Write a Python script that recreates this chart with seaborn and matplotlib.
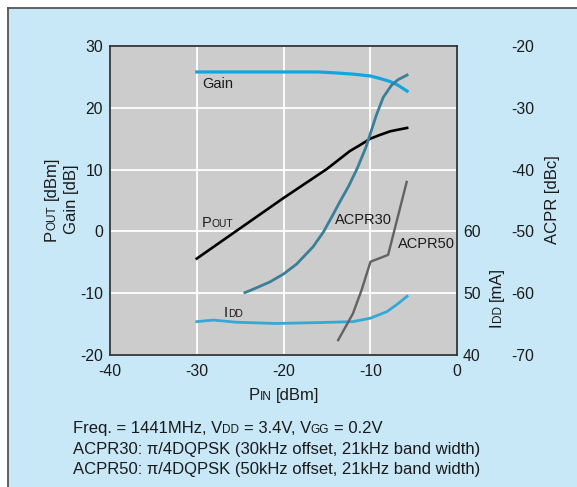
import matplotlib
matplotlib.use("Agg")
import matplotlib.pyplot as plt
import seaborn as sns
from matplotlib.patches import Rectangle
from matplotlib.lines import Line2D
from matplotlib.transforms import IdentityTransform

# ---------------- data ----------------
pin_gain = [-30, -20, -16, -14, -12, -10, -8.9, -7.7, -6.8, -5.75]
gain_db = [25.8, 25.8, 25.8, 25.65, 25.45, 25.15, 24.75, 24.25, 23.65, 22.7]

pin_pout = [-30, -25, -20, -15, -12.35, -11.2, -10, -8.9, -7.7, -5.75]
pout_dbm = [-4.4, 0.5, 5.4, 10.1, 13.0, 13.95, 15.0, 15.6, 16.2, 16.75]

pin_idd = [-30, -28.1, -25.4, -20.8, -15.8, -12, -10, -8.1, -6.9, -5.75]
idd_ma = [45.4, 45.65, 45.3, 45.1, 45.25, 45.4, 45.95, 47.0, 48.2, 49.5]

pin_acpr30 = [-24.45, -23.9, -21.6, -20, -18.5, -16.6, -15.4, -14.3, -13.5, -12.5,
              -11.5, -10.5, -9.3, -8.5, -7.55, -6.8, -5.75]
acpr30_dbc = [-59.9, -59.6, -58.2, -56.9, -55.3, -52.5, -50.1, -47.3, -45.2, -42.7,
              -39.8, -36.4, -31.2, -28.3, -26.35, -25.45, -24.7]

pin_acpr50 = [-13.7, -12.0, -11.0, -9.97, -7.94, -5.8]
acpr50_dbc = [-67.6, -63.3, -59.5, -54.9, -53.8, -42.0]

x_ticks = [-40, -30, -20, -10, 0]
left_ticks = [-20, -10, 0, 10, 20, 30]
idd_ticks = [40, 50, 60]
acpr_ticks = [-70, -60, -50, -40, -30, -20]

# ---------------- style ----------------
FONT = "Liberation Sans"
plt.rcParams["font.family"] = [FONT, "DejaVu Sans"]
plt.rcParams["axes.unicode_minus"] = False
TXT = "#1a1a1a"
W, H = 577, 487
BG_BLUE = "#c8e8f8"
PLOT_GRAY = "#cccccc"
C_GAIN = "#12a6e0"
C_IDD = "#33a9d6"
C_ACPR30 = "#3a7e98"
C_ACPR50 = "#626262"
C_POUT = "#000000"
TICK_FS = 11.3

fig = plt.figure(figsize=(W / 100, H / 100), dpi=100, facecolor="white")
fig.add_artist(Rectangle((8 / W, 0), 1.0, 1 - 8 / H, transform=fig.transFigure,
                         facecolor=BG_BLUE, edgecolor="none", zorder=0))
fig.add_artist(Line2D([8 / W, 8 / W], [0, 1 - 8 / H], transform=fig.transFigure,
                      color="#555555", lw=1.3, zorder=0.5))
fig.add_artist(Line2D([8 / W, 1], [1 - 8 / H, 1 - 8 / H], transform=fig.transFigure,
                      color="#555555", lw=1.3, zorder=0.5))

L, R, T, B = 110, 457, 46, 355
ax = fig.add_axes([L / W, 1 - B / H, (R - L) / W, (B - T) / H])
ax.set_facecolor(PLOT_GRAY)
ax.set_xlim(-40, 0)
ax.set_ylim(-20, 30)
ax.set_xticks(x_ticks)
ax.set_yticks(left_ticks)
ax.grid(True, color="white", lw=1.3)
ax.set_axisbelow(True)
for sp in ax.spines.values():
    sp.set_color("#333333")
    sp.set_linewidth(1.3)
ax.tick_params(length=0, labelsize=TICK_FS, colors=TXT)
ax.tick_params(axis="x", pad=6.5)
ax.tick_params(axis="y", pad=5)

sns.lineplot(x=pin_gain, y=gain_db, ax=ax, color=C_GAIN, lw=2.3)
sns.lineplot(x=pin_pout, y=pout_dbm, ax=ax, color=C_POUT, lw=1.9)
ax.set_xlabel("")
ax.set_ylabel("")

ax_idd = ax.twinx()
ax_idd.set_ylim(40, 90)
ax_idd.set_yticks(idd_ticks)
for sp in ax_idd.spines.values():
    sp.set_visible(False)
ax_idd.tick_params(length=0, labelsize=TICK_FS, colors=TXT, pad=4.3)
sns.lineplot(x=pin_idd, y=idd_ma, ax=ax_idd, color=C_IDD, lw=2.0)
ax_idd.set_ylabel("")

ax_acpr = ax.twinx()
ax_acpr.set_ylim(-70, -20)
ax_acpr.set_yticks(acpr_ticks)
for sp in ax_acpr.spines.values():
    sp.set_visible(False)
ax_acpr.spines["right"].set_position(("outward", 35))
ax_acpr.tick_params(length=0, labelsize=TICK_FS, colors=TXT, pad=4.3)
sns.lineplot(x=pin_acpr30, y=acpr30_dbc, ax=ax_acpr, color=C_ACPR30, lw=2.0)
sns.lineplot(x=pin_acpr50, y=acpr50_dbc, ax=ax_acpr, color=C_ACPR50, lw=1.7)
ax_acpr.set_ylabel("")
ax.set_xlim(-40, 0)

# ---------------- rich text helper (small-caps subscripts) ----------------
fig.canvas.draw()
rend = fig.canvas.get_renderer()


def _w(s, fs):
    t = fig.text(0, 0, s, fontsize=fs, transform=IdentityTransform())
    w = t.get_window_extent(rend).width
    t.remove()
    return w


def advance(s, fs):
    return _w("x" + s + "x", fs) - _w("xx", fs)


def rich(parts, x, y, rot=0, align="left", color=TXT):
    """x, y: reference pixel coords (y from top) of baseline start."""
    adv = [advance(s, fs) for s, fs in parts]
    total = sum(adv)
    pos = -total / 2 if align == "center" else 0.0
    X, Y = x, H - y
    for (s, fs), a in zip(parts, adv):
        stripped = s.lstrip(" ")
        lead = advance(s[: len(s) - len(stripped)], fs) if stripped != s else 0.0
        p = pos + lead
        if rot == 0:
            fig.text(X + p, Y, stripped, fontsize=fs, ha="left", va="baseline",
                     color=color, transform=IdentityTransform())
        else:
            fig.text(X, Y + p, stripped, fontsize=fs, rotation=90, rotation_mode="anchor",
                     ha="left", va="baseline", color=color, transform=IdentityTransform())
        pos += a


S = 10.5
s = 7.4
# in-plot labels
rich([("Gain", S)], 202, 88)
rich([("P", S), ("OUT", s)], 202, 227.3)
rich([("ACPR30", S)], 335, 224.5)
rich([("ACPR50", S)], 397.5, 248.3)
rich([("I", S), ("DD", s)], 224, 316.7)

# axis labels
AL = 12
al = 8.5
rich([("P", AL), ("IN", al), (" [dBm]", AL)], 284, 400, align="center")
rich([("P", AL), ("OUT", al), (" [dBm]", AL)], 56, 199, rot=90, align="center")
rich([("Gain [dB]", AL)], 76, 199, rot=90, align="center")
rich([("I", AL), ("DD", al), (" [mA]", AL)], 501, 296.7, rot=90, align="center")
rich([("ACPR [dBc]", AL)], 557, 199.7, rot=90, align="center")

# footnote
A = 12
a = 8.5
rich([("Freq. = 1441MHz, V", A), ("DD", a), (" = 3.4V, V", A), ("GG", a), (" = 0.2V", A)], 72.7, 433.3)
rich([("ACPR30: \u03c0/4DQPSK (30kHz offset, 21kHz band width)", A)], 72.7, 453.6)
rich([("ACPR50: \u03c0/4DQPSK (50kHz offset, 21kHz band width)", A)], 72.7, 474)

fig.savefig("out.png", dpi=100, facecolor="white")
